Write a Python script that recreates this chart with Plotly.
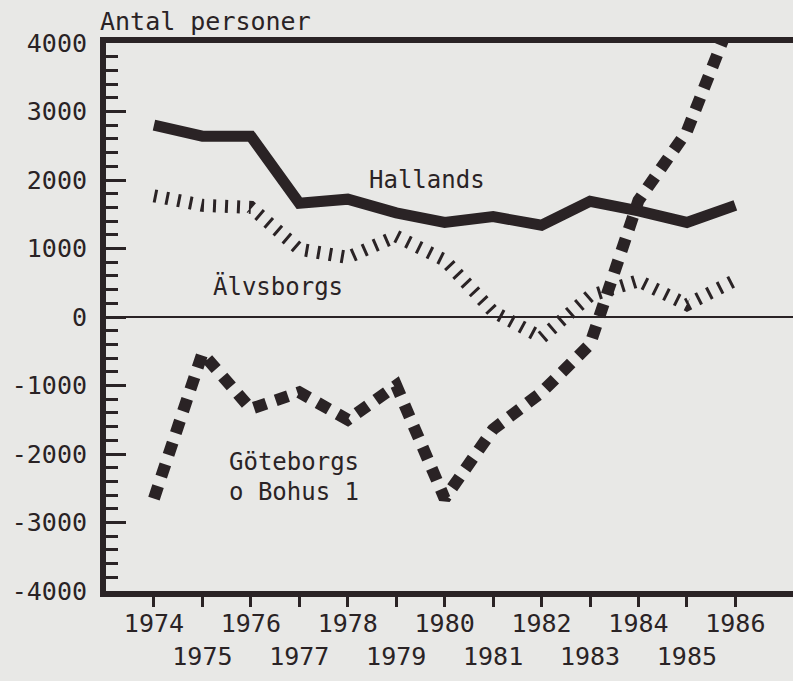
import plotly.graph_objects as go

# net migration per county
years = list(range(1974, 1987))
hallands = [2800, 2640, 2640, 1660, 1720, 1520, 1380, 1465, 1340, 1690, 1550, 1380, 1630]
alvsborgs = [1770, 1630, 1600, 990, 870, 1180, 830, 80, -300, 310, 530, 180, 540]
goteborgs = [-2650, -530, -1340, -1100, -1500, -1000, -2650, -1640, -1100, -400, 1700, 2710, 4500]

y_ticks = [4000, 3000, 2000, 1000, 0, -1000, -2000, -3000, -4000]
y_labels = ["4000", "3000", "2000", "1000", "0", "-1000", "-2000", "-3000", "-4000"]
# odd years sit on a second row under the axis
x_labels = [str(y) if y % 2 == 0 else "<br>" + str(y) for y in years]

INK = "#2a2325"
BG = "#e8e8e6"
FONT = "DejaVu Sans Mono"

fig = go.Figure()
fig.add_trace(go.Scatter(
    x=years, y=hallands, mode="lines", hoverinfo="skip",
    line=dict(color=INK, width=11),
))
fig.add_trace(go.Scatter(
    x=years, y=alvsborgs, mode="lines", hoverinfo="skip",
    line=dict(color=INK, width=13, dash="3px,9px"),
))
fig.add_trace(go.Scatter(
    x=years, y=goteborgs, mode="lines", hoverinfo="skip",
    line=dict(color=INK, width=12, dash="13px,10px"),
))

fig.update_xaxes(
    range=[1973.01, 1987.19],
    tickvals=years,
    ticktext=x_labels,
    tickangle=0,
    ticks="outside", ticklen=10, tickwidth=3, tickcolor=INK,
    showline=True, linewidth=6, linecolor=INK, mirror=True,
    showgrid=False, zeroline=False,
    ticklabelstandoff=-5,
    automargin=False,
    tickfont=dict(family=FONT, size=25, color=INK),
)
fig.update_yaxes(
    range=[-4000, 4000],
    tickvals=y_ticks,
    ticktext=y_labels,
    ticks="inside", ticklen=20, tickwidth=3, tickcolor=INK,
    minor=dict(dtick=200, ticks="inside", ticklen=12, tickwidth=3,
               tickcolor=INK, showgrid=False),
    showline=True, linewidth=6, linecolor=INK, mirror=False,
    showgrid=False,
    zeroline=True, zerolinewidth=2, zerolinecolor=INK,
    ticklabelstandoff=8,
    automargin=False,
    tickfont=dict(family=FONT, size=25, color=INK),
)

label_font = dict(family=FONT, size=24, color=INK)
fig.add_annotation(x=-0.012, y=1.04, xref="paper", yref="paper",
                   text="Antal personer", showarrow=False,
                   xanchor="left", yanchor="middle",
                   font=dict(family=FONT, size=25, color=INK))
fig.add_annotation(x=1979.63, y=2000, text="Hallands", showarrow=False,
                   xanchor="center", yanchor="middle", font=label_font)
fig.add_annotation(x=1976.57, y=445, text="Älvsborgs", showarrow=False,
                   xanchor="center", yanchor="middle", font=label_font)
fig.add_annotation(x=1975.5, y=-2124, text="Göteborgs", showarrow=False,
                   xanchor="left", yanchor="middle", font=label_font)
fig.add_annotation(x=1975.5, y=-2550, text="o Bohus 1", showarrow=False,
                   xanchor="left", yanchor="middle", font=label_font)

fig.update_layout(
    width=793, height=681,
    margin=dict(l=106, r=0, t=43, b=90),
    paper_bgcolor=BG, plot_bgcolor=BG,
    showlegend=False,
)

# drop the browser's default 8px body margin so the figure fills the window
fig.write_html(
    "out.html",
    config={"displayModeBar": False},
    post_script="document.body.style.margin='0';"
                "document.body.style.background='" + BG + "';",
)
